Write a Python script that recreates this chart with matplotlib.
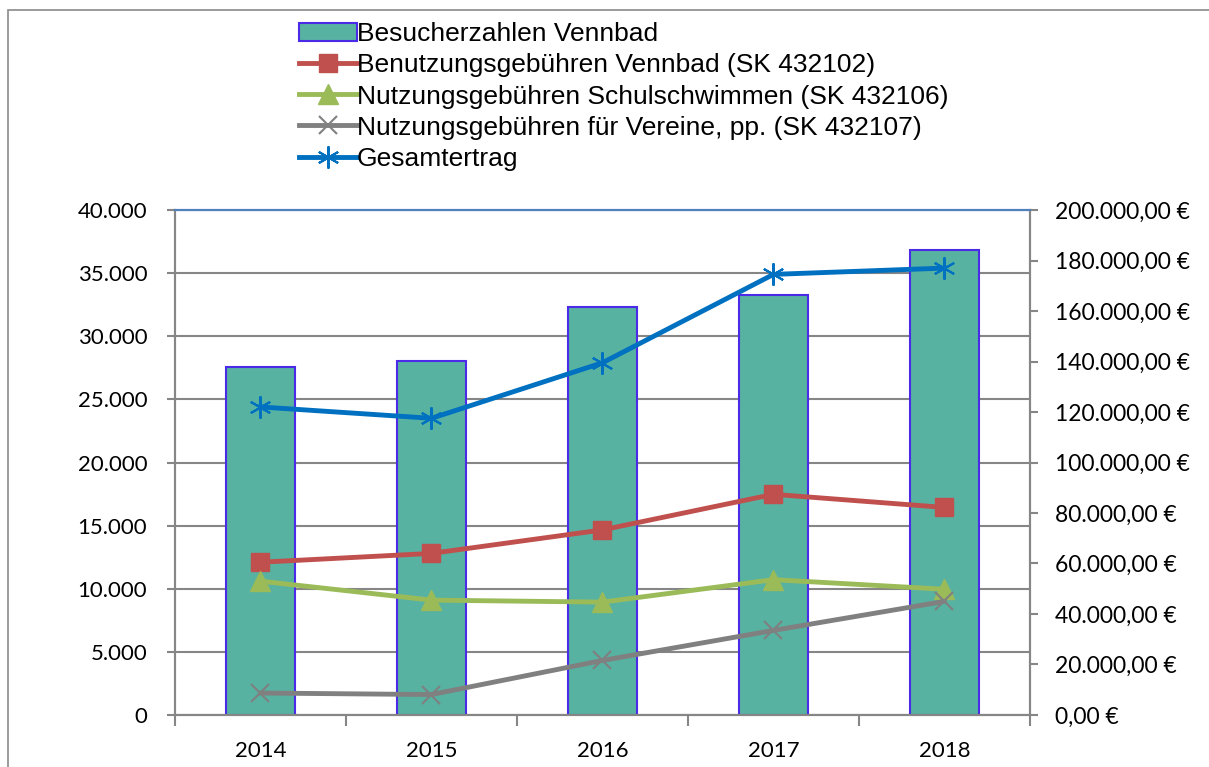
import matplotlib.pyplot as plt
from matplotlib.patches import Rectangle, Patch
from matplotlib.lines import Line2D
import numpy as np

# data
years = ["2014", "2015", "2016", "2017", "2018"]
besucher = [27600, 28050, 32350, 33300, 36800]
benutzung = [60500, 64000, 73300, 87400, 82200]
schulschwimmen = [53000, 45500, 44700, 53600, 49800]
vereine = [8700, 8100, 21600, 33500, 45000]
gesamt = [122000, 117500, 139500, 174500, 177000]

left_ticks = np.arange(0, 40001, 5000)
right_ticks = np.arange(0, 200001, 20000)


def de_int(v):
    return f"{int(v):,}".replace(",", ".")


def de_eur(v):
    s = f"{v:,.2f}"
    s = s.replace(",", "X").replace(".", ",").replace("X", ".")
    return s + " \u20ac"


grid_c = "#868686"
tick_font = "Lato"

fig = plt.figure(figsize=(12.09, 7.67), dpi=100)
fig.patches.append(Rectangle((0.0066, -0.05), 1.1, 1.037, transform=fig.transFigure,
                             fill=False, edgecolor="#8a8a8a", linewidth=1.2))

ax1 = fig.add_axes([0.1447, 0.0678, 0.7072, 0.6584])
ax2 = ax1.twinx()

x = np.arange(len(years))

ax1.bar(x, besucher, width=0.4, color="#57B2A2", edgecolor="#4B2BE8", linewidth=1.5, zorder=2)
ax1.set_xlim(-0.5, len(years) - 0.5)
ax1.set_ylim(0, 40000)
ax1.set_yticks(left_ticks)
ax1.set_yticklabels([de_int(v) for v in left_ticks], fontsize=16, family=tick_font)
ax1.yaxis.grid(True, color=grid_c, linewidth=1.5, zorder=0)
ax1.set_axisbelow(True)

# category ticks at boundaries, labels at centres
ax1.set_xticks(np.arange(-0.5, len(years) + 0.5, 1.0))
ax1.set_xticklabels([""] * (len(years) + 1))
ax1.set_xticks(x, minor=True)
ax1.set_xticklabels(years, minor=True, fontsize=16, family=tick_font)
ax1.tick_params(axis="x", which="major", length=8, color=grid_c, width=1.5)
ax1.tick_params(axis="x", which="minor", length=0, pad=19)
ax1.tick_params(axis="y", length=6, color=grid_c, width=1.5, pad=14)

ax2.plot(x, benutzung, color="#C0504D", linewidth=3.5, marker="s", markersize=13, zorder=3)
ax2.plot(x, schulschwimmen, color="#9BBB59", linewidth=3.5, marker="^", markersize=14, zorder=3)
ax2.plot(x, vereine, color="#808080", linewidth=3.5, marker="x", markersize=13,
         markeredgewidth=1.5, zorder=3)
ax2.plot(x, gesamt, color="#0070C0", linewidth=3.5, marker=(6, 2, 0), markersize=16,
         markeredgewidth=1.5, zorder=3)
ax2.set_ylim(0, 200000)
ax2.set_yticks(right_ticks)
ax2.set_yticklabels([de_eur(v) for v in right_ticks], fontsize=16.5, family=tick_font)
ax2.tick_params(axis="y", length=6, color=grid_c, width=1.5, pad=12)

for ax in (ax1, ax2):
    for side in ("left", "right", "bottom"):
        ax.spines[side].set_color(grid_c)
        ax.spines[side].set_linewidth(1.5)
    ax.spines["top"].set_color("#4F81BD")
    ax.spines["top"].set_linewidth(1.5)

handles = [
    Patch(facecolor="#57B2A2", edgecolor="#4B2BE8", linewidth=1.5),
    Line2D([], [], color="#C0504D", linewidth=3.5, marker="s", markersize=13),
    Line2D([], [], color="#9BBB59", linewidth=3.5, marker="^", markersize=14),
    Line2D([], [], color="#808080", linewidth=3.5, marker="x", markersize=13, markeredgewidth=1.5),
    Line2D([], [], color="#0070C0", linewidth=3.5, marker=(6, 2, 0), markersize=16, markeredgewidth=1.5),
]
labels = [
    "Besucherzahlen Vennbad",
    "Benutzungsgebühren Vennbad (SK 432102)",
    "Nutzungsgebühren Schulschwimmen (SK 432106)",
    "Nutzungsgebühren für Vereine, pp. (SK 432107)",
    "Gesamtertrag",
]
fig.legend(handles, labels, loc="upper left", bbox_to_anchor=(0.232, 0.995),
           frameon=False, prop={"family": "Liberation Sans", "size": 19},
           handlelength=2.2, handletextpad=0.0, labelspacing=0.27, borderpad=0.2)

fig.savefig("out.png", dpi=100)
